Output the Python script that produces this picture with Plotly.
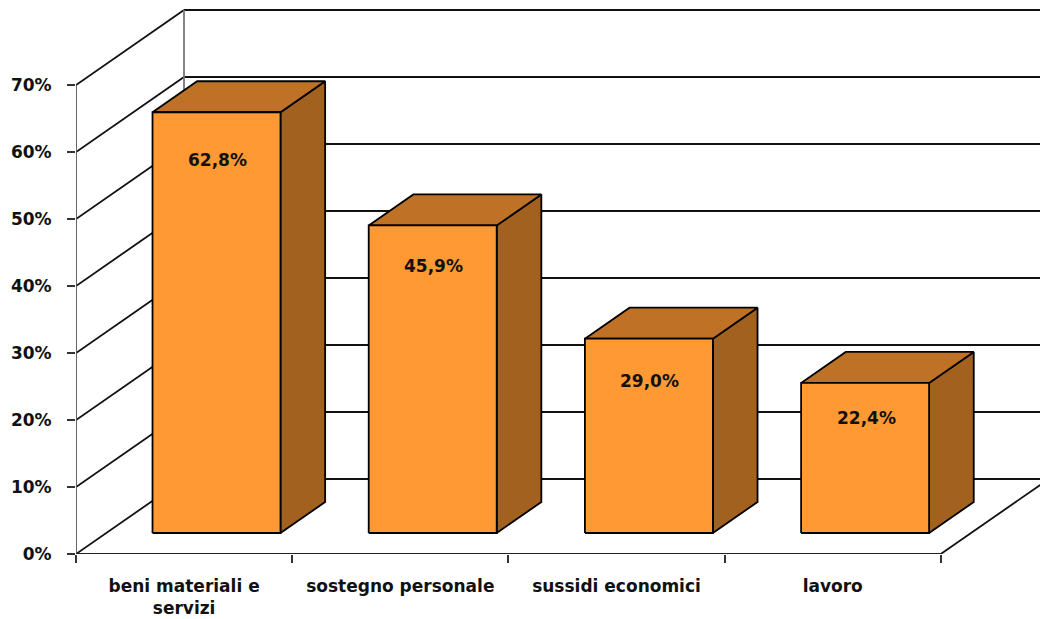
import plotly.graph_objects as go

categories = ["beni materiali e<br>servizi", "sostegno personale", "sussidi economici", "lavoro"]
values = [62.8, 45.9, 29.0, 22.4]
value_labels = ["62,8%", "45,9%", "29,0%", "22,4%"]
y_ticks = [0, 10, 20, 30, 40, 50, 60, 70]
y_tick_labels = ["0%", "10%", "20%", "30%", "40%", "50%", "60%", "70%"]
label_drop_px = [48, 41, 42, 35]

# oblique projection of the 3D box: depth 0 (front) .. 1 (back wall)
PX_PER_CAT = 216.2
PX_PER_PCT = 6.70
DEPTH_X = 108 / PX_PER_CAT
DEPTH_Y = 75 / PX_PER_PCT
Z0, Z1 = 21 / 75, 52 / 75
BAR_LEFT, BAR_W = 0.214, 0.592
N = len(categories)
FONT = "DejaVu Sans"
LW = 1.8


def proj(x, y, z=0.0):
    return x + z * DEPTH_X, y + z * DEPTH_Y


def seg(p, q, color="#111111", width=LW):
    return go.Scatter(x=[p[0], q[0]], y=[p[1], q[1]], mode="lines",
                      line=dict(color=color, width=width), hoverinfo="skip", showlegend=False)


def poly(pts, fill):
    return go.Scatter(x=[p[0] for p in pts] + [pts[0][0]], y=[p[1] for p in pts] + [pts[0][1]],
                      mode="lines", fill="toself", fillcolor=fill,
                      line=dict(color="#000000", width=LW), hoverinfo="skip", showlegend=False)


fig = go.Figure()

# back wall grid and side wall diagonals
for t in y_ticks:
    fig.add_trace(seg(proj(0, t, 0), proj(0, t, 1)))
    fig.add_trace(seg(proj(0, t, 1), proj(N + 1, t, 1)))
fig.add_trace(seg(proj(0, 0, 1), proj(0, y_ticks[-1], 1), color="#777777"))
fig.add_trace(seg(proj(0, 0), proj(0, y_ticks[-1]), color="#555555"))
fig.add_trace(seg(proj(0, 0), proj(N, 0), color="#222222"))
fig.add_trace(seg(proj(N, 0, 0), proj(N, 0, 1)))

# boxes
for i, v in enumerate(values):
    l, r = i + BAR_LEFT, i + BAR_LEFT + BAR_W
    fig.add_trace(poly([proj(r, 0, Z0), proj(r, 0, Z1), proj(r, v, Z1), proj(r, v, Z0)], "#A36120"))
    fig.add_trace(poly([proj(l, v, Z0), proj(r, v, Z0), proj(r, v, Z1), proj(l, v, Z1)], "#BF7226"))
    fig.add_trace(poly([proj(l, 0, Z0), proj(r, 0, Z0), proj(r, v, Z0), proj(l, v, Z0)], "#FF9933"))
    cx, cy = proj((l + r) / 2, v, Z0)
    fig.add_annotation(x=cx, y=cy, xshift=1, yshift=-label_drop_px[i], text=value_labels[i], showarrow=False,
                       font=dict(family=FONT, size=17, color="#111111", weight=700))

fig.update_layout(
    width=1040, height=619,
    margin=dict(l=76, r=0, t=0, b=65),
    paper_bgcolor="white", plot_bgcolor="white",
    showlegend=False,
    font=dict(family=FONT, color="#111111"),
    xaxis=dict(range=[0, 964 / PX_PER_CAT], showgrid=False, zeroline=False, showline=False,
               tickmode="array", tickvals=[i + 0.5 for i in range(N)], ticktext=categories,
               ticks="", ticklabelstandoff=20,
               tickfont=dict(family=FONT, size=17, color="#111111", weight=700),
               minor=dict(tickmode="array", tickvals=list(range(N + 1)), ticks="outside",
                          ticklen=8, tickwidth=1.5, tickcolor="#333333", showgrid=False)),
    yaxis=dict(range=[0, 554 / PX_PER_PCT], showgrid=False, zeroline=False, showline=False,
               tickmode="array", tickvals=y_ticks, ticktext=y_tick_labels,
               ticks="outside", ticklen=8, tickwidth=1.5, tickcolor="#333333",
               ticklabelstandoff=12,
               tickfont=dict(family=FONT, size=17, color="#111111", weight=700)),
)

fig.write_html("out.html", config={"displayModeBar": False},
               post_script="document.body.style.margin='0';document.body.style.overflow='hidden';")
